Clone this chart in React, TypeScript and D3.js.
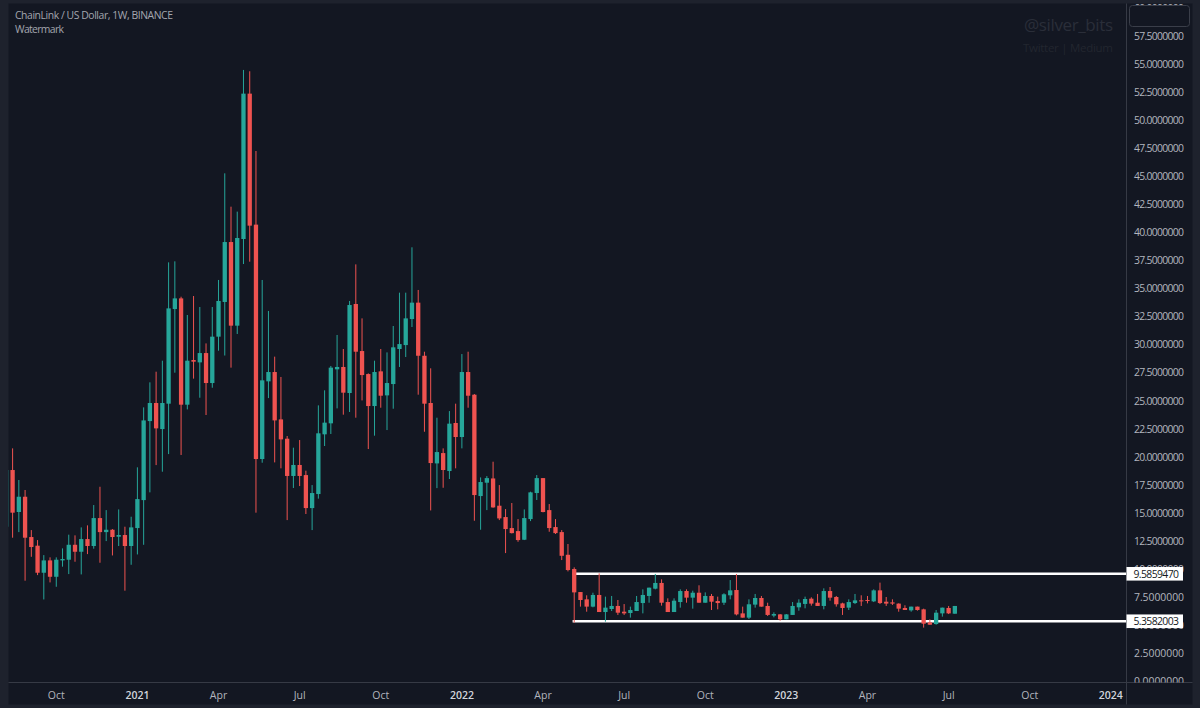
import React from "react";
import * as d3 from "d3";

const firstIndex = -1;
const opens = [
13.78,18.83,15.09,16.45,12.86,12.09,9.68,10.78,9.32,10.78,10.84,12.17,11.55,12.68,12.06,14.55,13.30,13.51,12.89,13.04,12.06,
13.66,16.15,23.19,24.80,22.48,24.74,33.17,34.12,24.65,28.63,28.42,29.25,26.58,30.71,33.80,39.14,31.69,39.41,52.36,40.69,
19.81,26.73,27.56,23.34,21.62,18.30,19.28,18.38,15.44,16.69,22.01,22.99,27.80,28.01,25.69,33.62,29.43,27.38,24.53,27.62,
25.48,26.49,29.61,29.96,32.28,33.74,29.01,24.80,19.42,20.34,18.74,23.02,21.77,27.56,25.54,16.51,17.70,18.08,15.65,14.64,
13.66,13.39,12.62,14.46,16.78,18.11,15.26,13.75,13.30,11.28,10.01,
7.96,7.31,6.66,7.70,6.18,6.45,6.72,6.21,6.09,6.27,6.98,7.61,8.26,8.77,7.07,6.18,7.07,8.05,7.46,7.90,7.01,7.61,7.16,7.01,7.67,
8.14,6.06,5.68,6.84,7.43,6.72,5.86,5.97,5.53,5.92,6.60,6.90,7.37,7.01,6.72,8.05,7.52,6.95,6.57,6.98,7.22,7.25,7.13,8.11,7.10,
7.04,6.93,6.54,6.33,6.66,6.42,5.26,5.11,6.06,6.54,6.03,
];
const closes = [
18.83,15.03,16.45,12.80,11.97,9.68,10.78,9.32,10.84,10.90,12.17,11.55,12.68,12.06,14.55,13.30,13.51,12.86,13.04,12.06,13.72,
16.24,23.25,24.80,22.54,24.80,33.23,34.12,24.65,28.57,28.48,29.25,26.58,30.71,33.89,39.14,31.69,39.50,52.36,40.60,19.81,
26.82,27.56,23.25,21.56,18.30,19.28,18.30,15.44,16.78,22.10,23.05,27.95,28.01,25.72,33.53,29.37,27.29,24.53,27.56,25.45,
26.58,29.76,30.05,32.34,33.74,29.01,24.74,19.45,20.43,18.83,22.96,21.77,27.56,25.45,16.60,17.76,18.11,15.50,14.52,13.57,
13.21,12.59,14.55,16.84,18.11,15.09,13.66,13.21,11.19,9.92,7.93,
7.25,6.66,7.70,6.18,6.57,6.72,6.12,6.06,6.36,7.07,7.70,8.35,8.77,7.01,6.18,7.19,8.05,7.46,7.90,7.01,7.61,7.10,6.98,7.76,8.11,
5.97,5.68,6.87,7.43,6.66,5.92,6.00,5.53,5.97,6.72,7.01,7.34,6.93,6.72,8.05,7.46,6.87,6.54,7.07,7.22,7.16,7.16,8.11,6.98,6.93,
6.93,6.48,6.36,6.66,6.36,5.14,5.05,6.12,6.57,6.06,6.72,
];
const highs = [
18.83,20.76,17.94,17.05,13.48,12.59,11.25,11.05,11.05,11.85,13.07,13.01,13.72,13.90,15.71,17.34,15.26,13.57,15.32,13.78,14.67,
19.07,24.41,26.64,27.59,28.57,37.33,37.42,34.27,32.64,34.33,33.35,30.11,33.35,35.76,45.26,42.29,41.85,54.47,54.35,47.25,
35.76,33.00,28.93,27.12,21.86,20.82,21.50,18.77,17.49,24.59,25.93,28.10,30.86,29.61,33.89,37.15,32.34,27.44,28.57,29.61,
29.31,31.66,34.63,34.63,38.67,34.87,29.37,27.89,23.49,20.76,24.08,24.74,29.16,29.37,25.60,18.17,18.29,19.57,17.49,15.35,
15.89,14.46,15.32,16.90,18.38,18.11,15.80,14.46,13.48,12.24,10.16,
7.96,7.67,7.90,9.63,7.55,7.61,7.25,6.89,6.66,7.61,8.20,8.35,9.57,9.09,7.40,7.40,8.20,8.20,8.08,8.56,7.93,7.79,7.55,7.85,9.03,
9.57,6.66,7.31,7.79,7.61,7.01,6.15,6.00,6.00,7.07,7.31,7.55,7.49,7.79,8.29,8.41,7.61,7.01,7.31,7.79,7.67,7.61,8.20,8.80,7.52,
7.31,6.95,6.78,6.66,6.66,6.48,5.53,6.36,6.57,6.72,6.72,
];
const lows = [
13.78,12.80,13.30,8.97,11.10,9.47,7.30,8.82,8.43,10.22,9.56,10.66,9.53,11.34,11.82,10.57,12.50,11.22,12.06,8.08,10.39,
11.31,12.17,16.84,19.27,18.68,20.25,27.50,20.17,24.23,26.97,25.27,23.73,26.16,29.46,29.03,27.95,30.95,37.18,37.39,15.03,
19.48,25.24,19.51,18.98,14.37,17.23,17.40,14.91,13.48,16.28,20.97,22.04,24.32,23.76,24.00,23.49,25.03,20.70,21.89,24.38,
22.39,24.29,28.01,28.90,31.57,25.54,22.24,15.23,17.22,17.25,18.03,18.98,20.76,24.38,14.31,13.51,15.26,15.47,14.37,11.43,
13.18,12.44,12.59,14.28,16.16,15.06,13.33,13.13,10.81,9.80,5.23,
6.66,6.21,6.60,6.18,5.32,6.27,5.92,5.92,5.68,6.27,6.06,7.01,8.20,6.75,6.18,6.18,6.57,7.01,6.48,7.01,7.01,6.36,6.42,6.81,7.31,
5.88,5.68,5.56,6.57,6.66,5.83,5.71,5.41,5.53,5.92,6.30,6.51,6.75,6.72,6.42,7.19,6.66,5.92,6.36,6.89,6.72,6.95,7.07,6.89,6.72,
6.81,6.21,6.36,6.21,6.30,4.79,5.05,5.05,5.77,6.00,6.03,
];
const levelValues = [9.585947, 5.3582003];
const levelLabels = ["9.5859470", "5.3582003"];
const timeTickIndex = [7, 20, 33, 46, 59, 72, 85, 98, 111, 124, 137, 150, 163, 176];
const timeTickLabels = ["Oct", "2021", "Apr", "Jul", "Oct", "2022", "Apr", "Jul", "Oct", "2023", "Apr", "Jul", "Oct", "2024"];
const priceTicks = d3.range(0, 60.1, 2.5);

const W = 1200, H = 708;
const paneL = 8.5, paneR = 1126.5, paneT = 3.5, paneB = 682.5, axisR = 1192.5, axisB = 704.5;
const UP = "#26a69a", DOWN = "#ef5350";
const FONT = "'Open Sans', 'Noto Sans', sans-serif";

export default function App() {
  const x = d3.scaleLinear().domain([0, 151]).range([12.6, 954.85]);
  const y = d3.scaleLinear().domain([0, 55]).range([681.4, 64]);
  const bw = 4.3;
  return (
    <svg width={W} height={H} viewBox={`0 0 ${W} ${H}`} style={{ position: "absolute", left: 0, top: 0, display: "block" }}>
      <defs>
        <clipPath id="pane"><rect x={paneL} y={paneT} width={paneR - paneL} height={paneB - paneT} /></clipPath>
        <clipPath id="priceAxis"><rect x={paneR} y={paneT} width={axisR - paneR} height={paneB - paneT} /></clipPath>
      </defs>
      <rect width={W} height={H} fill="#1e222d" />
      <rect x={paneL} y={paneT} width={axisR - paneL} height={axisB - paneT} fill="#131722" />
      <g fontFamily={FONT}>
        <text x={1113} y={31} textAnchor="end" fontSize={17} fill="#2a2e39" textLength={89}>@silver_bits</text>
        <text x={1113} y={52} textAnchor="end" fontSize={11.5} fill="#22262f" textLength={90}>Twitter | Medium</text>
      </g>
      <g clipPath="url(#pane)">
        {levelValues.map((v, i) => (
          <line key={i} x1={572.6} x2={paneR} y1={y(v)} y2={y(v)} stroke="#ffffff" strokeWidth={2.6} />
        ))}
        {opens.map((o, i) => {
          const c = closes[i];
          const px = x(i + firstIndex);
          const col = c >= o ? UP : DOWN;
          const top = y(Math.max(o, c));
          const bottom = y(Math.min(o, c));
          return (
            <g key={i} fill={col}>
              <line x1={px} x2={px} y1={y(highs[i])} y2={y(lows[i])} stroke={col} strokeWidth={1} />
              <rect x={px - bw / 2} y={top} width={bw} height={Math.max(bottom - top, 1)} />
            </g>
          );
        })}
      </g>
      <line x1={paneR} x2={paneR} y1={paneT} y2={axisB} stroke="#363a45" />
      <line x1={paneL} x2={axisR} y1={paneB} y2={paneB} stroke="#363a45" />
      <g clipPath="url(#priceAxis)" fontFamily={FONT} fontSize={10.4} fill="#b2b5be">
        {priceTicks.map((t) => (
          <text key={t} x={1134} y={y(t)} dy="0.36em" textLength={50}>{t.toFixed(7)}</text>
        ))}
      </g>
      <rect x={1129.5} y={5.5} width={60} height={21} rx={3} fill="#131722" stroke="#3a3e49" />
      {levelValues.map((v, i) => (
        <g key={i} fontFamily={FONT}>
          <rect x={paneR} y={y(v) - 6.8} width={56.5} height={13.6} fill="#ffffff" />
          <text x={1133.5} y={y(v)} dy="0.36em" fontSize={10.4} fill="#131722" textLength={45.5}>{levelLabels[i]}</text>
        </g>
      ))}
      <g fontFamily={FONT} fontSize={10.5} textAnchor="middle">
        {timeTickIndex.map((t, i) => {
          const isYear = /^\d/.test(timeTickLabels[i]);
          return (
            <text key={i} x={x(t)} y={698.5} fill={isYear ? "#d1d4dc" : "#b2b5be"} fontWeight={isYear ? 600 : 400}>
              {timeTickLabels[i]}
            </text>
          );
        })}
      </g>
      <g fontFamily={FONT} fontSize={10.4} fill="#a3a6af">
        <text x={15} y={18.5} textLength={158}>ChainLink / US Dollar, 1W, BINANCE</text>
        <text x={15} y={33} textLength={49}>Watermark</text>
      </g>
    </svg>
  );
}
